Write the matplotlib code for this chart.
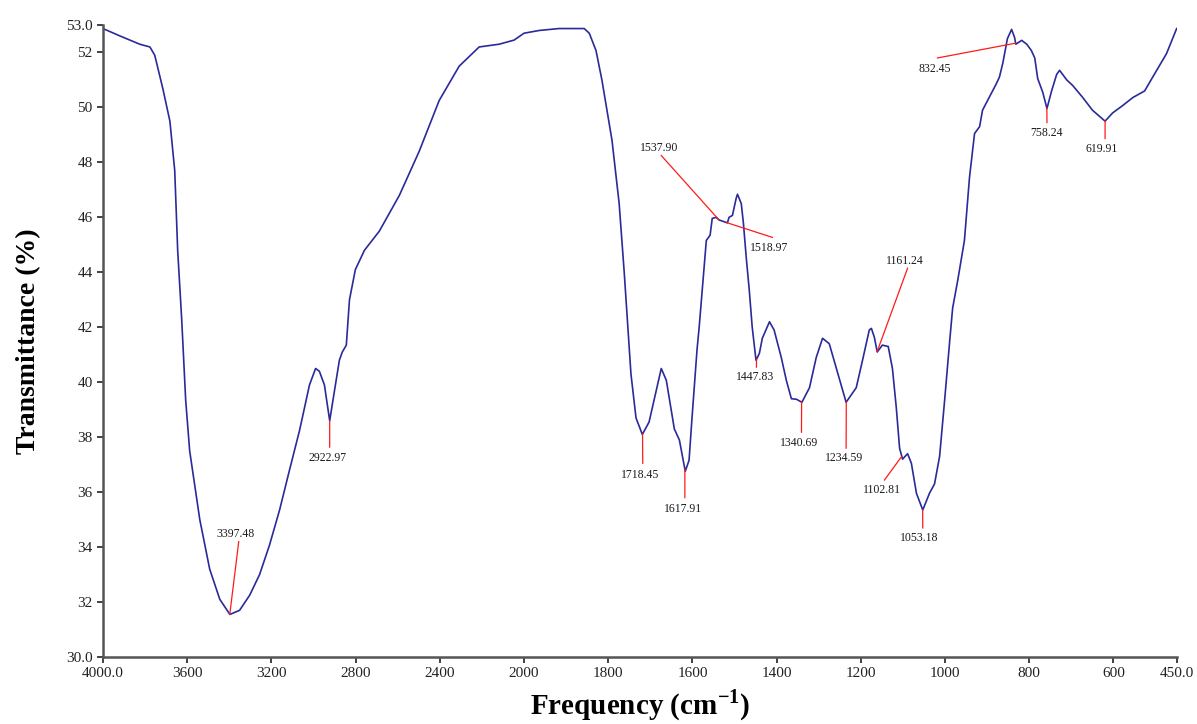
import matplotlib
matplotlib.use('Agg')
import matplotlib.pyplot as plt
import numpy as np

plt.rcParams['font.family'] = ['Liberation Serif', 'DejaVu Serif']
plt.rcParams['mathtext.fontset'] = 'custom'
plt.rcParams['mathtext.rm'] = 'Liberation Serif:bold'
plt.rcParams['mathtext.bf'] = 'Liberation Serif:bold'

# spectrum (wavenumber, transmittance)
wavenumber = [4000, 3919, 3825, 3777, 3754, 3716, 3682, 3659, 3645, 3626, 3607,
              3588, 3540, 3493, 3445, 3397, 3351, 3303, 3256, 3209, 3161, 3114,
              3066, 3019, 2990, 2972, 2948, 2923, 2900, 2877, 2863, 2844, 2829,
              2801, 2758, 2687, 2592, 2498, 2403, 2308, 2213, 2118, 2047, 2000,
              1964, 1917, 1857, 1845, 1829, 1815, 1803, 1791, 1774, 1762, 1746,
              1734, 1719, 1703, 1691, 1674, 1662, 1643, 1631, 1617, 1608, 1601,
              1589, 1584, 1567, 1558, 1553, 1544, 1536, 1517, 1513, 1505, 1496,
              1493, 1484, 1479, 1472, 1465, 1458, 1449, 1441, 1434, 1417, 1406,
              1389, 1377, 1365, 1353, 1340, 1322, 1306, 1291, 1275, 1258, 1235,
              1211, 1196, 1180, 1175, 1168, 1161, 1149, 1135, 1125, 1116, 1108,
              1101, 1089, 1080, 1068, 1053, 1037, 1025, 1013, 1001, 989, 982,
              970, 954, 942, 930, 918, 911, 894, 878, 871, 863, 852, 842, 835,
              832, 818, 806, 795, 787, 780, 768, 758, 747, 735, 728, 711, 697,
              673, 650, 620, 602, 578, 554, 526, 507, 474, 450]
transmittance = [52.87, 52.6, 52.3, 52.2, 51.9, 50.7, 49.5, 47.7, 44.8, 42.3, 39.35,
                 37.5, 35.0, 33.2, 32.1, 31.55, 31.7, 32.25, 33.0, 34.07, 35.35, 36.8,
                 38.25, 39.9, 40.5, 40.4, 39.9, 38.6, 39.7, 40.8, 41.1, 41.35, 43.0,
                 44.1, 44.8, 45.5, 46.8, 48.4, 50.25, 51.5, 52.2, 52.3, 52.45, 52.7,
                 52.8, 52.87, 52.87, 52.7, 52.07, 51.0, 49.9, 48.8, 46.5, 44.0, 40.3,
                 38.7, 38.1, 38.55, 39.35, 40.5, 40.07, 38.3, 37.9, 36.76, 37.16, 38.7,
                 41.2, 42.0, 45.16, 45.35, 45.96, 46.0, 45.9, 45.8, 46.0, 46.07, 46.7,
                 46.84, 46.5, 45.8, 44.5, 43.35, 42.0, 40.8, 41.05, 41.6, 42.2, 41.9,
                 40.9, 40.07, 39.4, 39.38, 39.27, 39.8, 40.9, 41.6, 41.4, 40.5, 39.27,
                 39.8, 40.8, 41.9, 41.96, 41.64, 41.1, 41.35, 41.3, 40.5, 39.1, 37.6,
                 37.2, 37.4, 37.05, 35.96, 35.35, 35.96, 36.3, 37.3, 39.35, 41.5, 42.7,
                 43.7, 45.16, 47.45, 49.05, 49.3, 49.9, 50.4, 50.87, 51.1, 51.6, 52.5,
                 52.84, 52.55, 52.3, 52.44, 52.3, 52.07, 51.8, 51.05, 50.55, 49.96,
                 50.6, 51.2, 51.35, 51.0, 50.8, 50.36, 49.9, 49.5, 49.8, 50.07, 50.36,
                 50.6, 51.1, 51.96, 52.87]

# labelled peaks
peak_wn = [3397.48, 2922.97, 1718.45, 1617.91, 1537.90, 1518.97, 1447.83,
           1340.69, 1234.59, 1161.24, 1102.81, 1053.18, 832.45, 758.24, 619.91]
peak_labels = ['3397.48', '2922.97', '1718.45', '1617.91', '1537.90', '1518.97',
               '1447.83', '1340.69', '1234.59', '1161.24', '1102.81', '1053.18',
               '832.45', '758.24', '619.91']

# where each red leader line ends and where its label sits
leader_end = [(3355, 34.2), (2923, 37.64), (1718, 37.05), (1618, 35.8),
              (1674, 48.25), (1410, 45.27), (1448, 40.55), (1341, 38.18),
              (1235, 37.6), (1089, 44.15), (1144, 36.44), (1053, 34.7),
              (1018, 51.8), (758, 49.45), (620, 48.87)]
label_pos = [(3372, 34.25, 'bottom'), (2935, 37.45, 'top'), (1723, 36.85, 'top'),
             (1622, 35.6, 'top'), (1679, 48.3, 'bottom'), (1417, 45.1, 'top'),
             (1452, 40.4, 'top'), (1346, 38.0, 'top'), (1241, 37.45, 'top'),
             (1096, 44.2, 'bottom'), (1151, 36.3, 'top'), (1061, 34.55, 'top'),
             (1025, 51.6, 'top'), (760, 49.3, 'top'), (627, 48.7, 'top')]

xticks = [4000, 3600, 3200, 2800, 2400, 2000, 1800, 1600, 1400, 1200, 1000, 800, 600, 450]
xtick_labels = ['4000.0', '3600', '3200', '2800', '2400', '2000', '1800', '1600',
                '1400', '1200', '1000', '800', '600', '450.0']
yticks = [30, 32, 34, 36, 38, 40, 42, 44, 46, 48, 50, 52, 53]
ytick_labels = ['30.0', '32', '34', '36', '38', '40', '42', '44', '46', '48', '50', '52', '53.0']


# FTIR style axis: scale doubles below 2000 cm-1
def fwd(x):
    x = np.asarray(x, dtype=float)
    return np.where(x > 2000, 2000 + (x - 2000) / 2, x)


def inv(x):
    x = np.asarray(x, dtype=float)
    return np.where(x > 2000, 2000 + (x - 2000) * 2, x)


fig = plt.figure(figsize=(11.97, 7.24), dpi=100)
ax = fig.add_axes([0.086, 0.0925, 0.897, 0.873])
ax.set_xscale('function', functions=(fwd, inv))

ax.plot(wavenumber, transmittance, color='#2a2a9a', lw=1.2)

xs = np.array(wavenumber[::-1], dtype=float)
ys = np.array(transmittance[::-1], dtype=float)
for pk, lab, end, pos in zip(peak_wn, peak_labels, leader_end, label_pos):
    y0 = np.interp(pk, xs, ys)
    ax.plot([pk, end[0]], [y0, end[1]], color='#ff1a1a', lw=0.9)
    ax.text(pos[0], pos[1], lab, ha='center', va=pos[2], fontsize=8.5, color='#1a1a1a')

ax.set_xlim(4000, 450)
ax.set_ylim(30, 53)
ax.set_xticks(xticks)
ax.set_xticklabels(xtick_labels)
ax.set_yticks(yticks)
ax.set_yticklabels(ytick_labels)
ax.minorticks_off()
ax.tick_params(labelsize=11, length=4, width=1.2, colors='#222222', direction='out')

for s in ['top', 'right']:
    ax.spines[s].set_visible(False)
for s in ['left', 'bottom']:
    ax.spines[s].set_linewidth(1.8)
    ax.spines[s].set_color('#555555')

ax.set_ylabel('Transmittance (%)', fontsize=20, fontweight='bold', labelpad=18)
ax.set_xlabel('Frequency (cm$^{-1}$)', fontsize=21, fontweight='bold', labelpad=5)

fig.savefig('out.png', dpi=100)
